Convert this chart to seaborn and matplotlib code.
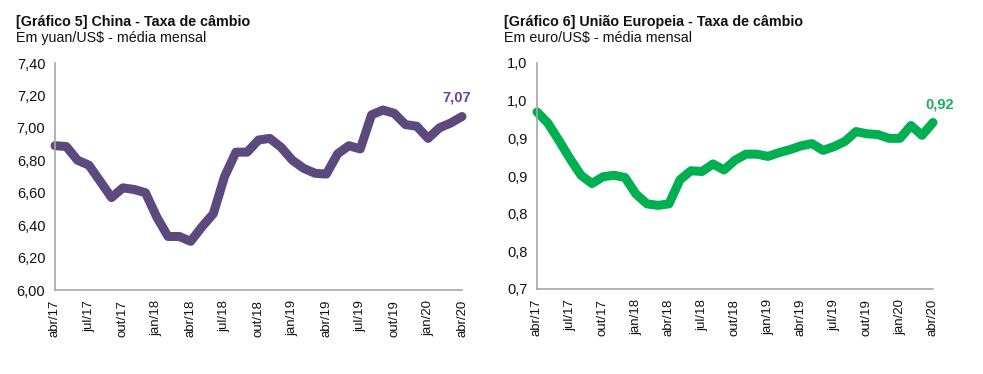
import matplotlib
matplotlib.use("Agg")
import matplotlib.pyplot as plt
import numpy as np
import pandas as pd
import seaborn as sns

# monthly averages, abr/17 .. abr/20
months = [
    "abr/17", "mai/17", "jun/17", "jul/17", "ago/17", "set/17", "out/17", "nov/17", "dez/17",
    "jan/18", "fev/18", "mar/18", "abr/18", "mai/18", "jun/18", "jul/18", "ago/18", "set/18",
    "out/18", "nov/18", "dez/18", "jan/19", "fev/19", "mar/19", "abr/19", "mai/19", "jun/19",
    "jul/19", "ago/19", "set/19", "out/19", "nov/19", "dez/19", "jan/20", "fev/20", "mar/20",
    "abr/20",
]
china_yuan = [
    6.89, 6.885, 6.80, 6.77, 6.67, 6.57, 6.63, 6.62, 6.60,
    6.45, 6.33, 6.33, 6.30, 6.39, 6.47, 6.70, 6.85, 6.85,
    6.925, 6.935, 6.88, 6.80, 6.75, 6.72, 6.715, 6.84, 6.89,
    6.87, 7.08, 7.11, 7.09, 7.02, 7.01, 6.935, 7.00, 7.03,
    7.07,
]
eu_euro = [
    0.935, 0.920, 0.897, 0.873, 0.851, 0.840, 0.849, 0.851, 0.848,
    0.826, 0.813, 0.811, 0.813, 0.845, 0.857, 0.856, 0.866, 0.858,
    0.871, 0.879, 0.879, 0.876, 0.881, 0.885, 0.890, 0.893, 0.884,
    0.889, 0.896, 0.909, 0.906, 0.905, 0.900, 0.900, 0.917, 0.904,
    0.921,
]

x_tick_labels = ["abr/17", "jul/17", "out/17", "jan/18", "abr/18", "jul/18", "out/18",
                 "jan/19", "abr/19", "jul/19", "out/19", "jan/20", "abr/20"]
china_yticks = [6.0, 6.2, 6.4, 6.6, 6.8, 7.0, 7.2, 7.4]
china_ylabels = ["6,00", "6,20", "6,40", "6,60", "6,80", "7,00", "7,20", "7,40"]
eu_yticks = [0.70, 0.75, 0.80, 0.85, 0.90, 0.95, 1.00]
eu_ylabels = ["0,7", "0,8", "0,8", "0,9", "0,9", "1,0", "1,0"]

df = pd.DataFrame({"mes": months, "china": china_yuan, "ue": eu_euro})
df["idx"] = np.arange(len(df))

sns.set_style("white")
plt.rcParams["font.family"] = ["Liberation Sans", "DejaVu Sans"]

PURPLE = "#5c4a7e"
PURPLE_TXT = "#6b3fa0"
GREEN = "#00b050"
GREEN_TXT = "#1aaf5d"
AXIS_GRAY = "#a6a6a6"

fig = plt.figure(figsize=(9.83, 3.74), dpi=100)
ax1 = fig.add_axes([55 / 983, 1 - 290 / 374, 407 / 983, 227 / 374])
ax2 = fig.add_axes([537 / 983, 1 - 289 / 374, 396 / 983, 226 / 374])


def style_axis(ax, yticks, ylabels):
    ax.set_xlim(0, len(months) - 1)
    ax.set_ylim(yticks[0], yticks[-1])
    ax.set_xticks(df["idx"][::3])
    ax.set_xticklabels(x_tick_labels, rotation=90, fontsize=9.5)
    ax.set_yticks(yticks)
    ax.set_yticklabels(ylabels, fontsize=10.5)
    ax.set_xlabel("")
    ax.set_ylabel("")
    for side in ["top", "right"]:
        ax.spines[side].set_visible(False)
    for side in ["left", "bottom"]:
        ax.spines[side].set_color(AXIS_GRAY)
        ax.spines[side].set_linewidth(1.2)
    ax.tick_params(axis="both", direction="out", length=4, width=1.2,
                   color=AXIS_GRAY, labelcolor="#111111", pad=3)


sns.lineplot(data=df, x="idx", y="china", ax=ax1, color=PURPLE, linewidth=6.5,
             solid_capstyle="round", solid_joinstyle="round", clip_on=False)
sns.lineplot(data=df, x="idx", y="ue", ax=ax2, color=GREEN, linewidth=6.5,
             solid_capstyle="round", solid_joinstyle="round", clip_on=False)

style_axis(ax1, china_yticks, china_ylabels)
style_axis(ax2, eu_yticks, eu_ylabels)

ax1.annotate("7,07", xy=(df["idx"].iloc[-1], china_yuan[-1]), xytext=(-4, 14),
             textcoords="offset points", ha="center", va="center",
             fontsize=10.5, fontweight="bold", color=PURPLE_TXT)
ax2.annotate("0,92", xy=(df["idx"].iloc[-1], eu_euro[-1]), xytext=(5, 13),
             textcoords="offset points", ha="center", va="center",
             fontsize=10.5, fontweight="bold", color=GREEN_TXT)

# titles
fig.text(16 / 983, 1 - 22 / 374, "[Gráfico 5] China - Taxa de câmbio",
         fontsize=10.3, fontweight="bold", va="center", color="#111111")
fig.text(16 / 983, 1 - 38 / 374, "Em yuan/US$ - média mensal",
         fontsize=10.3, va="center", color="#111111")
fig.text(504 / 983, 1 - 22 / 374, "[Gráfico 6] União Europeia - Taxa de câmbio",
         fontsize=10.3, fontweight="bold", va="center", color="#111111")
fig.text(504 / 983, 1 - 38 / 374, "Em euro/US$ - média mensal",
         fontsize=10.3, va="center", color="#111111")

fig.savefig("out.png", dpi=100)
